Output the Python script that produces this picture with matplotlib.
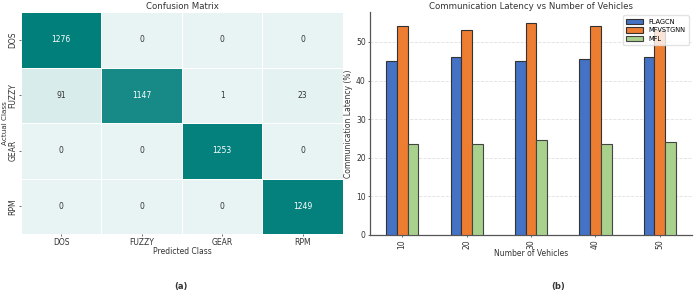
import numpy as np
import matplotlib
matplotlib.use("Agg")
import matplotlib.pyplot as plt
import seaborn as sns

# confusion matrix data
classes = ["DOS", "FUZZY", "GEAR", "RPM"]
cm_dos = [1276, 0, 0, 0]
cm_fuzzy = [91, 1147, 1, 23]
cm_gear = [0, 0, 1253, 0]
cm_rpm = [0, 0, 0, 1249]

# latency data
vehicles = ["10", "20", "30", "40", "50"]
flagcn = [45, 46, 45, 45.5, 46]
mfvstgnn = [54, 53, 55, 54, 53]
mfl = [23.5, 23.5, 24.5, 23.5, 24]

plt.rcParams['font.family'] = ['DejaVu Sans']
txt = '#333333'
fs = 5.5

fig = plt.figure(figsize=(6.94, 2.93), dpi=100)

# --- (a) confusion matrix ---
ax1 = fig.add_axes([21 / 694, 1 - 234 / 293, 322 / 694, 222 / 293])
cm = np.array([cm_dos, cm_fuzzy, cm_gear, cm_rpm])
cmap = matplotlib.colors.LinearSegmentedColormap.from_list("tl", ["#e8f4f4", "#007f7b"])
sns.heatmap(cm, annot=True, fmt="d", cmap=cmap, cbar=False, linewidths=0.6,
            linecolor="white", xticklabels=classes, yticklabels=classes, ax=ax1,
            annot_kws={"fontsize": fs})
for t in ax1.texts:
    v = int(t.get_text())
    t.set_color('white' if v > 600 else txt)
ax1.set_title("Confusion Matrix", fontsize=6.2, color=txt, pad=2)
ax1.set_xlabel("Predicted Class", fontsize=fs, color=txt, labelpad=0)
ax1.set_ylabel("Actual Class", fontsize=5.2, color=txt)
ax1.yaxis.set_label_coords(-0.041, 0.5)
ax1.tick_params(labelsize=fs, colors=txt, length=1.5, width=0.5, pad=1.2)
plt.setp(ax1.get_yticklabels(), rotation=90, va='center')
for lbl in ax1.get_xticklabels() + ax1.get_yticklabels():
    lbl.set_color(txt)

# --- (b) latency bars ---
ax2 = fig.add_axes([370 / 694, 1 - 235 / 293, 322 / 694, 223 / 293])
x = np.arange(len(vehicles))
w = 0.5 / 3
ax2.bar(x - w, flagcn, w, color='#4472c4', edgecolor='#333333', linewidth=0.8, label='FLAGCN', zorder=3)
ax2.bar(x, mfvstgnn, w, color='#ed7d31', edgecolor='#333333', linewidth=0.8, label='MFVSTGNN', zorder=3)
ax2.bar(x + w, mfl, w, color='#a9d18e', edgecolor='#444444', linewidth=0.8, label='MFL', zorder=3)
ax2.set_xlim(-0.5, len(vehicles) - 0.5)
ax2.set_xticks(x)
ax2.set_xticklabels(vehicles, rotation=90)
ax2.set_title("Communication Latency vs Number of Vehicles", fontsize=6.2, color=txt, pad=2)
ax2.set_xlabel("Number of Vehicles", fontsize=fs, color=txt, labelpad=0)
ax2.set_ylabel("Communication Latency (%)", fontsize=fs, color=txt, labelpad=2)
ax2.tick_params(labelsize=fs, colors=txt, length=1.5, width=0.5, pad=1.5)
ax2.grid(True, axis='y', linestyle='--', color='#e0e0e0', linewidth=0.6, zorder=0)
for s in ['top', 'right']:
    ax2.spines[s].set_visible(False)
for s in ['left', 'bottom']:
    ax2.spines[s].set_color('#555555')
    ax2.spines[s].set_linewidth(0.9)
ax2.legend(loc='upper right', fontsize=4.8, framealpha=0.8, edgecolor='#dddddd',
           handlelength=2.5, handleheight=0.8, borderpad=0.5, labelspacing=0.4)

fig.text(181 / 694, 1 - 287 / 293, "(a)", fontsize=6, fontweight='bold', ha='center', va='center', color=txt)
fig.text(558 / 694, 1 - 287 / 293, "(b)", fontsize=6, fontweight='bold', ha='center', va='center', color=txt)

fig.savefig("out.png", dpi=100)
